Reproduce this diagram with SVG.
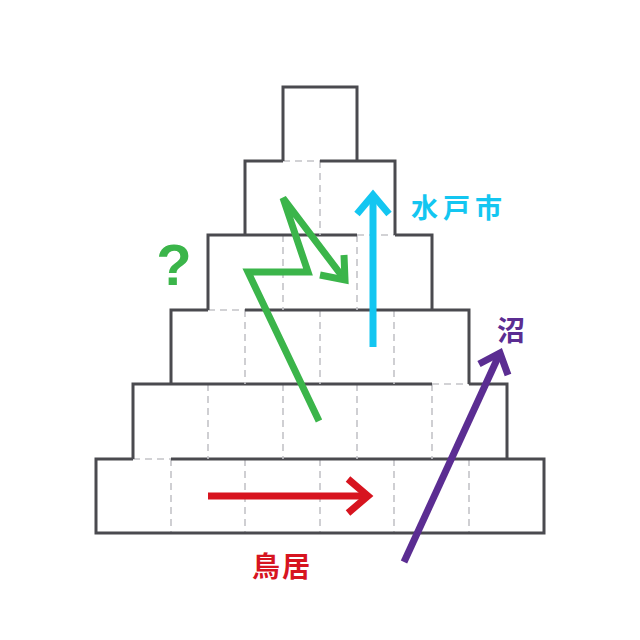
<svg xmlns="http://www.w3.org/2000/svg" width="640" height="640" viewBox="0 0 640 640">
<style>
.o{fill:none;stroke:#4a4a4f;stroke-width:3;stroke-linejoin:miter}
.d{fill:none;stroke:#c4c4c8;stroke-width:1.6;stroke-dasharray:7 5}
.a{fill:none;stroke-width:7;stroke-linecap:butt;stroke-linejoin:miter}
.t{font-family:"Noto Sans CJK JP","Noto Sans",sans-serif;font-weight:700}
</style>
<rect width="640" height="640" fill="#fff"/>
<g id="level6">
<line class="d" x1="171" y1="459" x2="171" y2="533"/><line class="d" x1="245" y1="459" x2="245" y2="533"/><line class="d" x1="320" y1="459" x2="320" y2="533"/><line class="d" x1="394" y1="459" x2="394" y2="533"/><line class="d" x1="469" y1="459" x2="469" y2="533"/>
<line class="d" x1="133" y1="459" x2="171" y2="459"/>
<path class="o" d="M133,459 H96 V533 H544 V459 H171"/>
</g>
<g id="level5">
<line class="d" x1="208" y1="384" x2="208" y2="459"/><line class="d" x1="283" y1="384" x2="283" y2="459"/><line class="d" x1="357" y1="384" x2="357" y2="459"/><line class="d" x1="432" y1="384" x2="432" y2="459"/>
<line class="d" x1="432" y1="384" x2="469" y2="384"/>
<path class="o" d="M432,384 H133 V459 M507,459 V384 H469"/>
</g>
<g id="level4">
<line class="d" x1="245" y1="310" x2="245" y2="384"/><line class="d" x1="320" y1="310" x2="320" y2="384"/><line class="d" x1="394" y1="310" x2="394" y2="384"/>
<line class="d" x1="208" y1="310" x2="245" y2="310"/>
<path class="o" d="M208,310 H171 V384 M469,384 V310 H245"/>
</g>
<g id="level3">
<line class="d" x1="283" y1="235" x2="283" y2="310"/><line class="d" x1="357" y1="235" x2="357" y2="310"/>
<line class="d" x1="357" y1="235" x2="395" y2="235"/>
<path class="o" d="M357,235 H208 V310 M432,310 V235 H395"/>
</g>
<g id="level2">
<line class="d" x1="320" y1="161" x2="320" y2="235"/>
<line class="d" x1="283" y1="161" x2="320" y2="161"/>
<path class="o" d="M283,161 H245 V235 M395,235 V161 H320"/>
</g>
<g id="level1">
<path class="o" d="M283,161 V87 H357 V161"/>
</g>
<g id="connectors">
<g stroke="#d7141f" class="a"><line x1="208" y1="496" x2="368" y2="496"/><polyline points="348,479 368,496 348,513"/></g>
<g stroke="#13c6f1" class="a"><line x1="373" y1="347" x2="373" y2="195"/><polyline points="357,214 373,195 389,214"/></g>
<g stroke="#3bb54a" class="a"><polyline points="319,421 248,272 308,272 283,198 345,280"/><polyline points="344,255 345,280 320,275"/></g>
<g stroke="#5b2d92" class="a"><line x1="404" y1="562" x2="500" y2="353"/><polyline points="479,364 500,353 508,375"/></g>
</g>
<g id="labels">
<text x="174" y="285" font-size="58" font-weight="700" fill="#3bb54a" text-anchor="middle" font-family="Liberation Sans, sans-serif">?</text>
<text class="t" x="411" y="218" font-size="27" fill="#13c6f1" letter-spacing="5">水戸市</text>
<text class="t" x="497" y="341" font-size="28" fill="#5b2d92">沼</text>
<text class="t" x="252" y="577" font-size="28" fill="#d7141f" letter-spacing="2">鳥居</text>
</g>
</svg>
